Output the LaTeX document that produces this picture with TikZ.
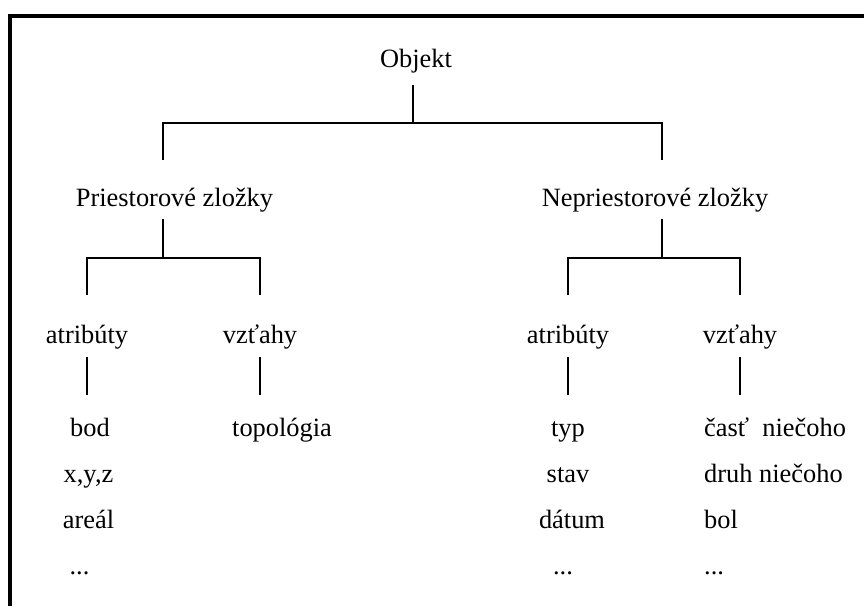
\documentclass[tikz,border=0pt]{standalone}
\usepackage{fontspec}
\setmainfont{Liberation Serif}
\begin{document}
\begin{tikzpicture}[x=1pt,y=-1pt,
  lbl/.style={inner sep=0pt,anchor=base,font=\fontsize{26.4}{30}\selectfont},
  lblw/.style={lbl,anchor=base west},
  conn/.style={line width=1.6pt,line join=miter}]
\useasboundingbox (0,0) rectangle (864,606);
% frame: left and top edges only
\draw[line width=4pt,line join=miter] (10,606) -- (10,16) -- (864,16);

% labels
\node[lbl] (obj) at (416,67) {Objekt};
\node[lbl] (pz) at (174.5,206) {Priestorové zložky};
\node[lbl] (npz) at (655,206) {Nepriestorové zložky};
\node[lbl] (atrL) at (87,343) {atribúty};
\node[lbl] (vztL) at (260,343) {vzťahy};
\node[lbl] (atrR) at (568,343) {atribúty};
\node[lbl] (vztR) at (740,343) {vzťahy};

\node[lbl] (bod) at (90,436) {bod};
\node[lbl] (xyz) at (88.5,482) {x,y,z};
\node[lbl] (areal) at (88.5,528) {areál};
\node[lbl] (etcL) at (79.5,574) {...};
\node[lblw] (topo) at (232,436) {topológia};

\node[lbl] (typ) at (568,436) {typ};
\node[lbl] (stav) at (568,482) {stav};
\node[lbl] (datum) at (572,528) {dátum};
\node[lbl] (etcM) at (563,574) {...};

\node[lblw] (cast) at (704,436) {časť\ \ niečoho};
\node[lblw] (druh) at (704,482) {druh niečoho};
\node[lblw] (bol) at (704,528) {bol};
\node[lblw] (etcR) at (704,574) {...};

% connector ends
\coordinate (obj-s) at (413,85);
\coordinate (obj-j) at (413,123);
\coordinate (pz-n) at (163,160);
\coordinate (npz-n) at (662,160);
\coordinate (pz-s) at (163,219);
\coordinate (pz-j) at (163,258);
\coordinate (npz-s) at (662,219);
\coordinate (npz-j) at (662,258);
\coordinate (atrL-n) at (87,295);
\coordinate (vztL-n) at (260,295);
\coordinate (atrR-n) at (568,295);
\coordinate (vztR-n) at (740,295);
\coordinate (atrL-s) at (87,357);
\coordinate (vztL-s) at (260,357);
\coordinate (atrR-s) at (568,357);
\coordinate (vztR-s) at (740,357);
\coordinate (bod-n) at (87,395);
\coordinate (topo-n) at (260,395);
\coordinate (typ-n) at (568,395);
\coordinate (cast-n) at (740,395);

% tree connectors
\draw[conn] (obj-s) -- (obj-j);
\draw[conn] (pz-n) |- (obj-j) -| (npz-n);
\draw[conn] (pz-s) -- (pz-j);
\draw[conn] (atrL-n) |- (pz-j) -| (vztL-n);
\draw[conn] (npz-s) -- (npz-j);
\draw[conn] (atrR-n) |- (npz-j) -| (vztR-n);
\draw[conn] (atrL-s) -- (bod-n);
\draw[conn] (vztL-s) -- (topo-n);
\draw[conn] (atrR-s) -- (typ-n);
\draw[conn] (vztR-s) -- (cast-n);
\end{tikzpicture}
\end{document}
